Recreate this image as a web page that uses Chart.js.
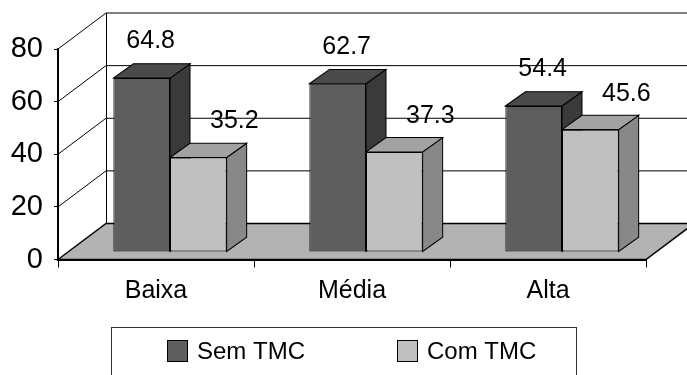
<!DOCTYPE html>
<html><head><meta charset="utf-8">
<script src="https://cdn.jsdelivr.net/npm/chart.js@4.4.1/dist/chart.umd.min.js"></script>
<style>html,body{margin:0;padding:0;background:#fff}#wrap{width:687px;height:375px;position:relative}</style>
</head><body><div id="wrap"><canvas id="c" width="687" height="375"></canvas></div>
<script>
// ---- data ----
const categories = ['Baixa', 'Média', 'Alta'];
const seriesNames = ['Sem TMC', 'Com TMC'];
const semTMC = [64.8, 62.7, 54.4];
const comTMC = [35.2, 37.3, 45.6];
const yTickValues = [0, 20, 40, 60, 80];

// ---- styles ----
const FONT = "'Liberation Sans', Arial, sans-serif";
const faces = [
  {front: '#5e5e5e', top: '#4a4a4a', side: '#3a3a3a'},
  {front: '#c0c0c0', top: '#a2a2a2', side: '#888888'}
];
const WALL = {dx: 48, dy: 36};      // depth of the 3D box
const BAR = {dx: 20, dy: 14};       // depth of each bar
const SHIFT = {dx: 14, dy: -7.5, k: 1.02}; // bars sit inside the box
const LABEL_OFF = [{dx: 9, dy: -37}, {dx: 36, dy: -36}];

Chart.defaults.font.family = FONT;
Chart.defaults.color = '#000';

function shifted(chart, px, py) {
  const base = chart.scales.y.getPixelForValue(0);
  return [px + SHIFT.dx, base + (py - base) * SHIFT.k + SHIFT.dy];
}

const box3d = {
  id: 'box3d',
  beforeDraw(chart) {
    const {ctx, chartArea: a, scales: {y}} = chart;
    const yb = y.getPixelForValue(0);
    const x0 = a.left, x1 = a.right;
    ctx.save();
    // floor
    ctx.beginPath();
    ctx.moveTo(x0, yb);
    ctx.lineTo(x0 + WALL.dx, yb - WALL.dy);
    ctx.lineTo(x1 + WALL.dx, yb - WALL.dy);
    ctx.lineTo(x1, yb);
    ctx.closePath();
    ctx.fillStyle = '#b3b3b3';
    ctx.fill();
    ctx.strokeStyle = '#000';
    ctx.lineWidth = 1.5;
    ctx.stroke();
    // grid lines on left and back walls
    ctx.lineWidth = 1;
    yTickValues.forEach(v => {
      if (v === 0) return;
      const yy = y.getPixelForValue(v);
      ctx.beginPath();
      ctx.moveTo(x0, yy);
      ctx.lineTo(x0 + WALL.dx, yy - WALL.dy);
      ctx.lineTo(chart.width + 5, yy - WALL.dy);
      ctx.stroke();
    });
    // back wall left edge
    const yt = y.getPixelForValue(y.max);
    ctx.beginPath();
    ctx.moveTo(x0 + WALL.dx + 0.5, yt - WALL.dy);
    ctx.lineTo(x0 + WALL.dx + 0.5, yb - WALL.dy);
    ctx.stroke();
    ctx.restore();
  },
  beforeDatasetsDraw(chart) {
    const {ctx, scales: {y}} = chart;
    const base = y.getPixelForValue(0);
    ctx.save();
    ctx.translate(SHIFT.dx, base + SHIFT.dy);
    ctx.scale(1, SHIFT.k);
    ctx.translate(0, -base);
    ctx.lineWidth = 1;
    ctx.strokeStyle = '#000';
    const metas = chart.data.datasets.map((d, i) => chart.getDatasetMeta(i));
    for (let j = 0; j < categories.length; j++) {
      metas.forEach((meta, di) => {
        const el = meta.data[j];
        if (!el) return;
        const {x, y: top, base: b, width: w} = el.getProps(['x', 'y', 'base', 'width'], true);
        const L = x - w / 2, R = x + w / 2;
        // side
        ctx.beginPath();
        ctx.moveTo(R, top);
        ctx.lineTo(R + BAR.dx, top - BAR.dy);
        ctx.lineTo(R + BAR.dx, b - BAR.dy);
        ctx.lineTo(R, b);
        ctx.closePath();
        ctx.fillStyle = faces[di].side;
        ctx.fill(); ctx.stroke();
        // top
        ctx.beginPath();
        ctx.moveTo(L, top);
        ctx.lineTo(L + BAR.dx, top - BAR.dy);
        ctx.lineTo(R + BAR.dx, top - BAR.dy);
        ctx.lineTo(R, top);
        ctx.closePath();
        ctx.fillStyle = faces[di].top;
        ctx.fill(); ctx.stroke();
      });
    }
  },
  afterDatasetsDraw(chart) {
    chart.ctx.restore();
  },
  afterDraw(chart) {
    const {ctx} = chart;
    ctx.save();
    // value labels
    ctx.font = '25px ' + FONT;
    ctx.fillStyle = '#000';
    ctx.textAlign = 'center';
    ctx.textBaseline = 'middle';
    chart.data.datasets.forEach((ds, di) => {
      const meta = chart.getDatasetMeta(di);
      meta.data.forEach((el, j) => {
        const [sx, sy] = shifted(chart, el.x, el.y);
        ctx.fillText(ds.data[j].toFixed(1), sx + LABEL_OFF[di].dx, sy + LABEL_OFF[di].dy);
      });
    });
    // legend
    ctx.font = '24px ' + FONT;
    ctx.strokeStyle = '#333';
    ctx.lineWidth = 1;
    ctx.strokeRect(111.5, 327.5, 465, 80);
    const items = [{x: 167}, {x: 397}];
    ctx.textAlign = 'left';
    chart.data.datasets.forEach((ds, di) => {
      const ix = items[di].x;
      ctx.fillStyle = ds.backgroundColor;
      ctx.fillRect(ix + 0.5, 340.5, 20, 21);
      ctx.strokeStyle = '#000';
      ctx.strokeRect(ix + 0.5, 340.5, 20, 21);
      ctx.fillStyle = '#000';
      ctx.fillText(ds.label, ix + 30, 352);
    });
    ctx.restore();
  }
};

new Chart(document.getElementById('c'), {
  type: 'bar',
  data: {
    labels: categories,
    datasets: [
      {label: seriesNames[0], data: semTMC, backgroundColor: faces[0].front, borderColor: '#000', borderWidth: 1, borderSkipped: false},
      {label: seriesNames[1], data: comTMC, backgroundColor: faces[1].front, borderColor: '#000', borderWidth: 1, borderSkipped: false}
    ]
  },
  options: {
    responsive: false,
    devicePixelRatio: 1,
    animation: false,
    events: [],
    layout: {padding: {left: 0, top: 49, right: 41, bottom: 0}},
    categoryPercentage: 0.578,
    barPercentage: 1,
    plugins: {legend: {display: false}, tooltip: {enabled: false}},
    scales: {
      x: {
        offset: true,
        grid: {offset: true, drawOnChartArea: false, tickLength: 8, color: '#000', lineWidth: 1},
        border: {display: true, color: '#000', width: 2},
        ticks: {color: '#000', font: {size: 25}, padding: 9, maxRotation: 0},
        afterFit(s) { s.height = 115.5; }
      },
      y: {
        min: 0, max: 80,
        afterBuildTicks(s) { s.ticks = yTickValues.map(v => ({value: v})); },
        grid: {drawOnChartArea: false, tickLength: 4, color: '#000'},
        border: {display: true, color: '#000', width: 2},
        ticks: {color: '#000', font: {size: 29}, padding: 11},
        afterFit(s) { s.width = 58; }
      }
    }
  },
  plugins: [box3d]
});
</script>
</body></html>
